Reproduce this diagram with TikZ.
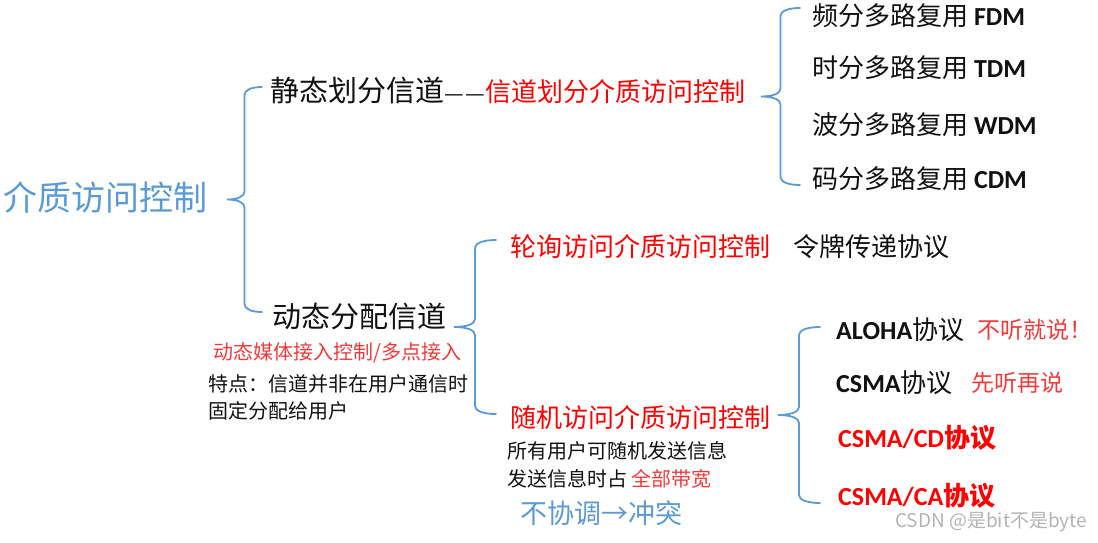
\documentclass[tikz,border=0pt]{standalone}
\usepackage{fontspec}
\usepackage{tikz}
\usetikzlibrary{calc,positioning}
\setmainfont{Noto Sans CJK SC}
\newfontfamily\protofont{Carlito}
\newcommand{\proto}[1]{{\protofont\bfseries #1}}
\definecolor{MacBlue}{HTML}{5B9BD5}
\definecolor{MacRed}{HTML}{FF0000}
\definecolor{MacSoftRed}{HTML}{F23A3A}
\definecolor{MacInk}{HTML}{111111}
\definecolor{MacMark}{HTML}{B4B4B4}
\tikzset{
  lvl/.style={anchor=west,inner sep=0pt,text=MacInk},
  title/.style={lvl,text=MacBlue,font=\fontsize{34}{40}\selectfont},
  branch/.style={lvl,font=\fontsize{29}{34}\selectfont},
  method/.style={lvl,text=MacRed,font=\fontsize{26}{30}\selectfont},
  leaf/.style={lvl,font=\fontsize{26}{30}\selectfont},
  hotleaf/.style={lvl,text=MacRed,font=\fontsize{26}{30}\selectfont\bfseries},
  slogan/.style={lvl,text=MacSoftRed,font=\fontsize{23}{28}\selectfont},
  note/.style={lvl,align=left,font=\fontsize{20}{27}\selectfont},
  bracket/.style={draw=MacBlue,line width=1.8pt,line cap=round,to path={
    let \p1=(\tikztostart),\p2=(\tikztotarget),\p3=($(\tikztostart)!.5!(\tikztotarget)$) in
    (\p1) .. controls ({\x1-0.3*#1},\y1) and ({\x1-0.5*#1},{\y1+3pt}) .. ({\x1-0.5*#1},{\y1+8pt})
    -- ({\x1-0.5*#1},{\y3-8pt})
    .. controls ({\x1-0.5*#1},{\y3-3pt}) and ({\x1-0.7*#1},\y3) .. ({\x1-#1},\y3)
    .. controls ({\x1-0.7*#1},\y3) and ({\x1-0.5*#1},{\y3+3pt}) .. ({\x1-0.5*#1},{\y3+8pt})
    -- ({\x1-0.5*#1},{\y2-8pt})
    .. controls ({\x1-0.5*#1},{\y2-3pt}) and ({\x1-0.3*#1},\y2) .. (\p2)}}
}

\begin{document}
\begin{tikzpicture}[x=1pt,y=-1pt]
  \path[use as bounding box,fill=white] (0,0) rectangle (1098,542);
  % root
  \node[title] (mac) at (3,197) {介质访问控制};
  \coordinate (macbot) at (262,312);
  \coordinate (mactop) at (262,87);
  \draw[bracket=35pt] (macbot) to (mactop);
  % static split
  \node[branch] (static) at (270,90) {静态划分信道{\fontsize{22}{28}\selectfont —\hspace{2pt}—}};
  \node[method,anchor=base west] (chanmac) at (static.base east) {信道划分介质访问控制};
  \coordinate (chanbot) at (800,185);
  \coordinate (chantop) at (800,8);
  \draw[bracket=39pt] (chanbot) to (chantop);
  \node[leaf] (fdm) at (812,16) {频分多路复用 \proto{FDM}};
  \node[leaf] (tdm) at (812,68) {时分多路复用 \proto{TDM}};
  \node[leaf] (wdm) at (812,125) {波分多路复用 \proto{WDM}};
  \node[leaf] (cdm) at (812,179) {码分多路复用 \proto{CDM}};
  % dynamic allocation
  \node[branch] (dynamic) at (272,316) {动态分配信道};
  \node[note,text=MacSoftRed] (dynsub) at (213,353) {动态媒体接入控制/多点接入};
  \node[note] (dynfeat) at (208,397) {特点：信道并非在用户通信时\\固定分配给用户};
  \coordinate (dynbot) at (496,414);
  \coordinate (dyntop) at (496,240);
  \draw[bracket=42pt] (dynbot) to (dyntop);
  \node[method] (poll) at (510,247) {轮询访问介质访问控制};
  \node[leaf,right=23pt of poll] (token) {令牌传递协议};
  \node[method] (random) at (510,418) {随机访问介质访问控制};
  \node[note,font=\fontsize{20}{28}\selectfont] (randfeat) at (507,465)
    {所有用户可随机发送信息\\发送信息时占 {\color{MacSoftRed}全部带宽}};
  \node[lvl,text=MacBlue,font=\fontsize{27}{32}\selectfont] (conflict) at (520,513) {不协调→冲突};
  \coordinate (randbot) at (820,503);
  \coordinate (randtop) at (820,327);
  \draw[bracket=42pt] (randbot) to (randtop);
  \node[leaf] (aloha) at (836,330) {\proto{ALOHA}协议};
  \node[slogan,right=13pt of aloha] (alohanote) {不听就说！};
  \node[leaf] (csma) at (836,383) {\proto{CSMA}协议};
  \node[slogan,right=18pt of csma] (csmanote) {先听再说};
  \node[hotleaf] (csmacd) at (838,438) {\proto{CSMA/CD}协议};
  \node[hotleaf] (csmaca) at (838,496) {\proto{CSMA/CA}协议};
  \node[lvl,text=MacMark,font=\fontsize{19}{22}\selectfont] (mark) at (895,522) {CSDN @是bit不是byte};
\end{tikzpicture}
\end{document}
